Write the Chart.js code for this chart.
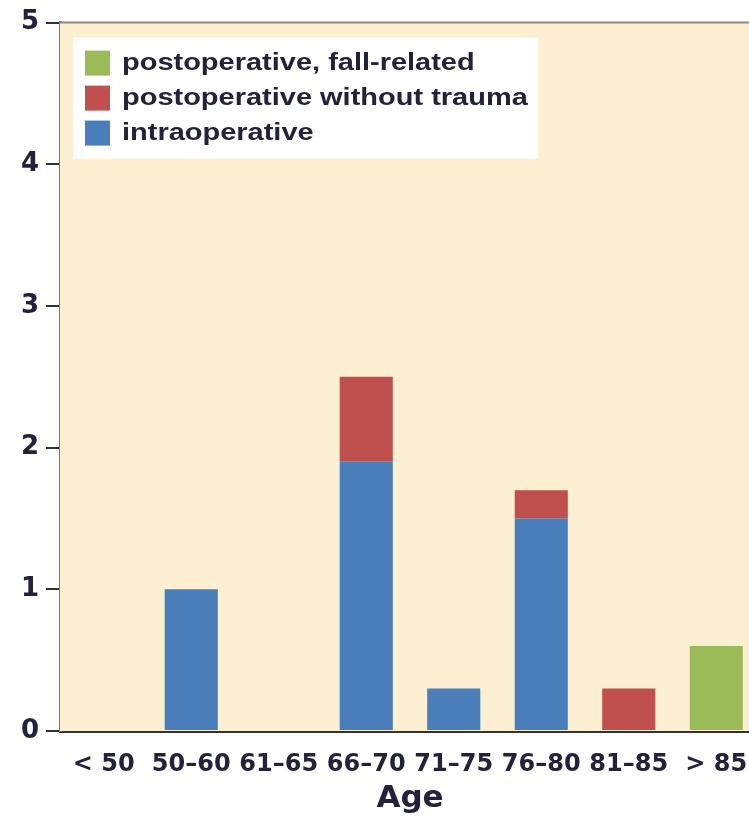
<!DOCTYPE html>
<html>
<head>
<meta charset="utf-8">
<script src="https://cdn.jsdelivr.net/npm/chart.js@4"></script>
<style>
  html, body { margin: 0; padding: 0; background: #fff; overflow: hidden; }
  #wrap { width: 760px; height: 818px; }
</style>
</head>
<body>
<div id="wrap"><canvas id="age-chart" width="760" height="818"></canvas></div>
<script>
const ageGroups = ['< 50', '50–60', '61–65', '66–70', '71–75', '76–80', '81–85', '> 85'];
const intraoperative = [0, 1, 0, 1.9, 0.3, 1.5, 0, 0];
const postopNoTrauma = [0, 0, 0, 0.6, 0, 0.2, 0.3, 0];
const postopFall = [0, 0, 0, 0, 0, 0, 0, 0.6];
const yTicks = [0, 1, 2, 3, 4, 5];

const textColor = '#22223a';
const axisFont = '"DejaVu Sans", Verdana, sans-serif';
const legendFont = '"Liberation Sans", Arial, sans-serif';

// cream plot background, top border and the white legend box
const plotDecor = {
  id: 'plotDecor',
  beforeDatasetsDraw(chart) {
    const { ctx, chartArea: a } = chart;
    ctx.save();
    ctx.fillStyle = '#fdefd1';
    ctx.fillRect(a.left, a.top, a.right - a.left, a.bottom - a.top);
    ctx.restore();
  },
  afterDatasetsDraw(chart) {
    const { ctx, chartArea: a } = chart;
    ctx.save();
    ctx.strokeStyle = '#8a8a8a';
    ctx.lineWidth = 2;
    ctx.beginPath();
    ctx.moveTo(a.left, a.top);
    ctx.lineTo(a.right, a.top);
    ctx.stroke();

    // legend
    const x0 = a.left + 13, y0 = a.top + 15;
    ctx.fillStyle = '#ffffff';
    ctx.fillRect(x0, y0, 465, 121);
    const items = chart.data.datasets.slice().reverse();
    items.forEach((ds, i) => {
      const cy = y0 + 26 + i * 35;
      ctx.fillStyle = ds.backgroundColor;
      ctx.fillRect(x0 + 12, cy - 13, 25, 25);
      ctx.save();
      ctx.translate(x0 + 49, cy);
      ctx.scale(1.26, 1);
      ctx.font = 'bold 23px ' + legendFont;
      ctx.textBaseline = 'middle';
      ctx.fillStyle = textColor;
      ctx.fillText(ds.label, 0, 0);
      ctx.restore();
    });
    ctx.restore();
  }
};

const config = {
  type: 'bar',
  data: {
    labels: ageGroups,
    datasets: [
      { label: 'intraoperative', data: intraoperative, backgroundColor: '#4a7ebb' },
      { label: 'postoperative without trauma', data: postopNoTrauma, backgroundColor: '#c0504d' },
      { label: 'postoperative, fall-related', data: postopFall, backgroundColor: '#9bbb59' }
    ]
  },
  options: {
    responsive: false,
    animation: false,
    layout: { padding: { top: 22, left: 0, right: 0, bottom: 0 } },
    datasets: { bar: { categoryPercentage: 1, barPercentage: 0.607 } },
    plugins: { legend: { display: false }, tooltip: { enabled: false } },
    scales: {
      x: {
        stacked: true,
        grid: { display: false },
        border: { display: true, color: '#333333', width: 3 },
        ticks: { color: textColor, font: { family: axisFont, size: 24, weight: 'bold' }, padding: 11, maxRotation: 0, autoSkip: false },
        title: { display: true, text: 'Age', color: textColor, font: { family: axisFont, size: 31, weight: 'bold' }, padding: { top: 0, bottom: 0 } },
        afterFit(s) { s.height = 87; }
      },
      y: {
        stacked: true,
        min: 0,
        max: 5,
        afterBuildTicks(s) { s.ticks = yTicks.map(v => ({ value: v })); },
        grid: { drawOnChartArea: false, drawTicks: true, tickLength: 14, color: '#333333', lineWidth: 2 },
        border: { display: true, color: '#7a7a7a', width: 3 },
        ticks: { color: textColor, font: { family: axisFont, size: 26, weight: 'bold' }, padding: 7 },
        afterFit(s) { s.width = 60; }
      }
    }
  },
  plugins: [plotDecor]
};

new Chart(document.getElementById('age-chart').getContext('2d'), config);
</script>
</body>
</html>
